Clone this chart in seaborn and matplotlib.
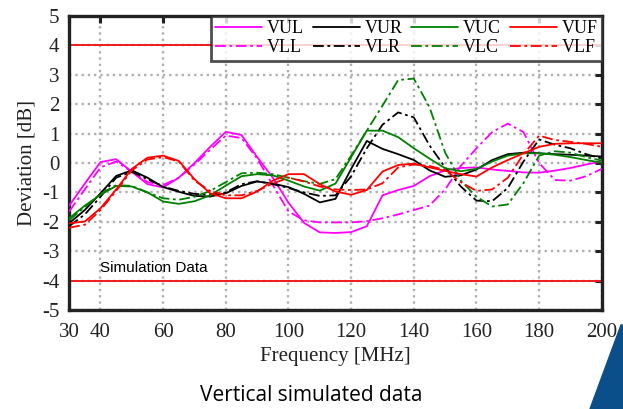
import numpy as np
import pandas as pd
import matplotlib.pyplot as plt
import seaborn as sns
from matplotlib.lines import Line2D
from matplotlib.patches import Polygon

# frequency points, MHz
freq = list(range(30, 201, 5))

vul = [-1.45, -0.7, 0.03, 0.13, -0.3, -0.72, -0.83, -0.5, 0.0, 0.55, 1.06, 0.95, 0.2, -0.5, -1.35,
       -2.04, -2.36, -2.38, -2.35, -2.15, -1.1, -0.92, -0.78, -0.45, -0.25, -0.17, -0.15, -0.22,
       -0.27, -0.32, -0.33, -0.26, -0.17, -0.05, 0.05]
vll = [-1.65, -0.9, -0.15, 0.05, -0.3, -0.65, -0.75, -0.5, -0.05, 0.45, 0.93, 0.85, 0.15, -0.75, -1.65,
       -1.95, -2.02, -2.02, -2.02, -1.98, -1.88, -1.75, -1.6, -1.45, -0.9, -0.1, 0.5, 1.05,
       1.34, 1.05, 0.0, -0.58, -0.6, -0.45, -0.2]
vur = [-2.05, -1.6, -1.03, -0.44, -0.25, -0.5, -0.82, -0.98, -1.12, -1.14, -1.03, -0.78, -0.63, -0.7, -0.82,
       -1.05, -1.34, -1.22, -0.2, 0.75, 0.48, 0.3, 0.1, -0.25, -0.47, -0.42, -0.22, 0.1,
       0.3, 0.35, 0.33, 0.3, 0.28, 0.25, 0.22]
vlr = [-2.15, -1.75, -1.15, -0.5, -0.3, -0.55, -0.8, -0.95, -1.05, -1.08, -1.0, -0.72, -0.62, -0.72, -0.85,
       -1.0, -1.12, -1.1, -0.45, 0.5, 1.3, 1.72, 1.55, 0.6, -0.15, -0.8, -1.28, -1.3,
       -0.85, 0.05, 0.8, 0.62, 0.5, 0.3, 0.15]
vuc = [-1.88, -1.45, -1.08, -0.78, -0.8, -1.0, -1.31, -1.39, -1.3, -1.1, -0.77, -0.45, -0.38, -0.42, -0.6,
       -0.8, -0.94, -0.7, 0.2, 1.1, 1.1, 0.88, 0.5, 0.15, -0.18, -0.28, -0.2, 0.05,
       0.25, 0.33, 0.33, 0.28, 0.2, 0.1, 0.01]
vlc = [-1.95, -1.5, -1.05, -0.75, -0.78, -1.0, -1.2, -1.25, -1.15, -0.95, -0.65, -0.35, -0.33, -0.38, -0.5,
       -0.62, -0.71, -0.55, 0.25, 1.1, 1.95, 2.82, 2.87, 1.9, 0.35, -0.6, -1.15, -1.48,
       -1.41, -0.68, 0.25, 0.4, 0.35, 0.2, 0.08]
vuf = [-2.05, -1.99, -1.54, -0.9, -0.2, 0.18, 0.25, 0.07, -0.55, -1.03, -1.2, -1.2, -0.97, -0.6, -0.38,
       -0.38, -0.72, -0.97, -1.08, -0.92, -0.29, -0.07, -0.02, -0.15, -0.27, -0.38, -0.46, -0.15,
       0.1, 0.33, 0.55, 0.65, 0.67, 0.67, 0.67]
vlf = [-2.2, -2.1, -1.6, -0.95, -0.25, 0.12, 0.2, 0.05, -0.6, -0.95, -1.1, -1.1, -0.95, -0.7, -0.5,
       -0.63, -0.8, -0.9, -0.92, -0.9, -0.69, -0.15, -0.05, -0.1, -0.24, -0.65, -0.95, -0.9,
       -0.5, 0.3, 0.93, 0.78, 0.72, 0.65, 0.55]

series = {"VUL": vul, "VLL": vll, "VUR": vur, "VLR": vlr,
          "VUC": vuc, "VLC": vlc, "VUF": vuf, "VLF": vlf}
colors = {"VUL": "#ff00ff", "VLL": "#ff00ff", "VUR": "black", "VLR": "black",
          "VUC": "#008000", "VLC": "#008000", "VUF": "#ff0000", "VLF": "#ff0000"}
dashdot = (6, 2, 1.5, 2)
dashes = {k: ("" if k[1] == "U" else dashdot) for k in series}

limit = 4  # +/- dB limit lines

df = pd.concat([pd.DataFrame({"freq": freq, "dev": v, "name": k}) for k, v in series.items()])

sns.set_theme(style="white")
plt.rcParams["font.family"] = ["Liberation Serif", "DejaVu Serif"]
plt.rcParams["axes.unicode_minus"] = False
plt.rcParams["text.color"] = "black"
plt.rcParams["axes.labelcolor"] = "#222222"

fig = plt.figure(figsize=(6.23, 4.09), dpi=100)
ax = fig.add_axes([0.111, 0.242, 0.855, 0.719])

ax.grid(True, color="#b0b0b0", linestyle=":", linewidth=1.7)
ax.axhline(limit, color="#ee1c1c", linewidth=1.4, zorder=2)
ax.axhline(-limit, color="#ee1c1c", linewidth=1.4, zorder=2)

sns.lineplot(data=df, x="freq", y="dev", hue="name", style="name",
             palette=colors, dashes=dashes, linewidth=1.3, legend=False, ax=ax, zorder=3)

ax.set_xlim(30, 200)
ax.set_ylim(-5, 5)
ax.set_xticks([30, 40, 60, 80, 100, 120, 140, 160, 180, 200])
ax.set_yticks(range(-5, 6))
ax.set_xlabel("Frequency [MHz]", fontsize=15, labelpad=4)
ax.set_ylabel("Deviation [dB]", fontsize=15, labelpad=4)
ax.tick_params(direction="in", length=5, width=2.2, labelsize=15, colors="#222222",
               top=True, right=True, labeltop=False, labelright=False)
ax.tick_params(axis="x", pad=9)
ax.tick_params(axis="y", pad=7)
for s in ax.spines.values():
    s.set_linewidth(2.4)
    s.set_color("#222222")

ax.text(40, -3.56, "Simulation Data", fontsize=11, va="center", ha="left",
        family=["Liberation Sans", "DejaVu Sans"])

order = ["VUL", "VLL", "VUR", "VLR", "VUC", "VLC", "VUF", "VLF"]
handles = [Line2D([0], [0], color=colors[k], linewidth=1.3,
                  linestyle="-" if k[1] == "U" else (0, dashdot)) for k in order]
leg = ax.legend(handles, order, ncol=4, loc="upper right", borderaxespad=0,
                fontsize=13, frameon=True, fancybox=False, handlelength=2.6,
                handletextpad=0.25, columnspacing=0.5, labelspacing=0.1,
                borderpad=0.25)
leg.get_frame().set_edgecolor("#222222")
leg.get_frame().set_linewidth(2.0)
leg.set_zorder(5)

fig.text(0.5, 0.033, "Vertical simulated data", ha="center", va="center", fontsize=15,
         family=["Open Sans", "DejaVu Sans"])

# slide decoration in the corner
fig.patches.append(Polygon([[590 / 623, 0], [621 / 623, 84 / 409], [1, 84 / 409], [1, 0]],
                           closed=True, transform=fig.transFigure, color="#0b4f8a"))

fig.savefig("out.png", dpi=100)
